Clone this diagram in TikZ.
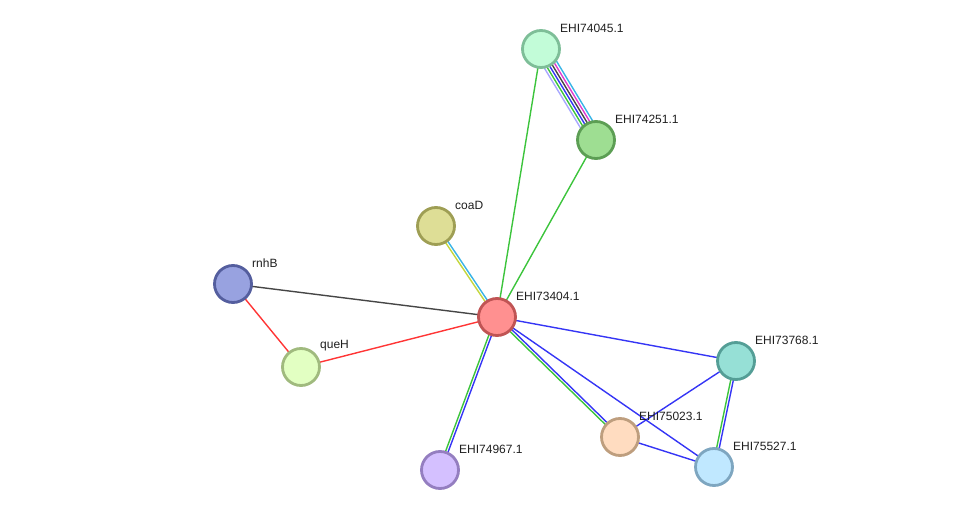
\documentclass[tikz,border=0pt]{standalone}
\usepackage{fontspec}
\setmainfont{Liberation Sans}
\usetikzlibrary{calc}
\pgfdeclarelayer{edges}
\pgfsetlayers{edges,main}
\definecolor{eGreen}{HTML}{3CC43C}
\definecolor{eBlue}{HTML}{3535F5}
\definecolor{eGray}{HTML}{464646}
\definecolor{eRed}{HTML}{FF3535}
\definecolor{eCyan}{HTML}{38B4E6}
\definecolor{eYel}{HTML}{C4D63C}
\definecolor{eMag}{HTML}{E03CD0}
\definecolor{eLav}{HTML}{A8A8FF}
\newcommand{\offline}[4]{\draw[edge,#4] ($(#1)!#3!90:(#2)$) -- ($(#2)!#3!-90:(#1)$);}
\begin{document}
\begin{tikzpicture}[x=1pt,y=-1pt,
  prot/.style={circle,minimum size=37pt,inner sep=0pt,line width=2.8pt},
  lbl/.style={anchor=west,inner sep=0pt,text=black!88,font=\fontsize{12}{14}\selectfont},
  edge/.style={line width=1.4pt}]
\useasboundingbox (0,0) rectangle (975,516);
% nodes
\node[prot,fill={rgb,255:red,194;green,252;blue,216},draw={rgb,255:red,126;green,190;blue,152}] (n45) at (541,49) {};
\node[prot,fill={rgb,255:red,158;green,222;blue,146},draw={rgb,255:red,92;green,158;blue,84}] (n51) at (596,140) {};
\node[prot,fill={rgb,255:red,222;green,222;blue,150},draw={rgb,255:red,158;green,158;blue,84}] (coaD) at (436,226) {};
\node[prot,fill={rgb,255:red,152;green,162;blue,224},draw={rgb,255:red,84;green,94;blue,158}] (rnhB) at (233,284) {};
\node[prot,fill={rgb,255:red,255;green,144;blue,144},draw={rgb,255:red,192;green,84;blue,84}] (n04) at (497,317) {};
\node[prot,fill={rgb,255:red,226;green,255;blue,194},draw={rgb,255:red,160;green,186;blue,126}] (queH) at (301,367) {};
\node[prot,fill={rgb,255:red,150;green,224;blue,214},draw={rgb,255:red,84;green,158;blue,150}] (n68) at (736,361) {};
\node[prot,fill={rgb,255:red,255;green,220;blue,192},draw={rgb,255:red,190;green,158;blue,126}] (n23) at (620,437) {};
\node[prot,fill={rgb,255:red,192;green,232;blue,255},draw={rgb,255:red,126;green,166;blue,192}] (n27) at (714,467) {};
\node[prot,fill={rgb,255:red,212;green,192;blue,255},draw={rgb,255:red,148;green,126;blue,192}] (n67) at (440,470) {};
% labels
\node[lbl] (l45) at ([xshift=19pt,yshift=21pt]n45.center) {EHI74045.1};
\node[lbl] (l51) at ([xshift=19pt,yshift=21pt]n51.center) {EHI74251.1};
\node[lbl] (lcoaD) at ([xshift=19pt,yshift=21pt]coaD.center) {coaD};
\node[lbl] (lrnhB) at ([xshift=19pt,yshift=21pt]rnhB.center) {rnhB};
\node[lbl] (l04) at ([xshift=19pt,yshift=21pt]n04.center) {EHI73404.1};
\node[lbl] (lqueH) at ([xshift=19pt,yshift=21pt]queH.center) {queH};
\node[lbl] (l68) at ([xshift=19pt,yshift=21pt]n68.center) {EHI73768.1};
\node[lbl] (l23) at ([xshift=19pt,yshift=21pt]n23.center) {EHI75023.1};
\node[lbl] (l27) at ([xshift=19pt,yshift=21pt]n27.center) {EHI75527.1};
\node[lbl] (l67) at ([xshift=19pt,yshift=21pt]n67.center) {EHI74967.1};
% edges
\begin{pgfonlayer}{edges}
\offline{n45}{n51}{-7pt}{eLav}
\offline{n45}{n51}{-4.2pt}{eGreen}
\offline{n45}{n51}{-1.4pt}{eBlue}
\offline{n45}{n51}{1.4pt}{eGray}
\offline{n45}{n51}{4.2pt}{eMag}
\offline{n45}{n51}{7pt}{eCyan}
\draw[edge,eGreen] (n45.center) -- (n04.center);
\draw[edge,eGreen] (n51.center) -- (n04.center);
\offline{coaD}{n04}{-1.3pt}{eYel}
\offline{coaD}{n04}{1.3pt}{eCyan}
\draw[edge,eGray] (rnhB.center) -- (n04.center);
\draw[edge,eRed] (rnhB.center) -- (queH.center);
\draw[edge,eRed] (queH.center) -- (n04.center);
\draw[edge,eBlue] (n04.center) -- (n68.center);
\offline{n04}{n23}{-1.3pt}{eGreen}
\offline{n04}{n23}{1.3pt}{eBlue}
\draw[edge,eBlue] (n04.center) -- (n27.center);
\offline{n04}{n67}{-1.3pt}{eGreen}
\offline{n04}{n67}{1.3pt}{eBlue}
\offline{n68}{n27}{-1.3pt}{eGreen}
\offline{n68}{n27}{1.3pt}{eBlue}
\draw[edge,eBlue] (n23.center) -- (n27.center);
\draw[edge,eBlue] (n23.center) -- (n68.center);
\end{pgfonlayer}
\end{tikzpicture}
\end{document}
